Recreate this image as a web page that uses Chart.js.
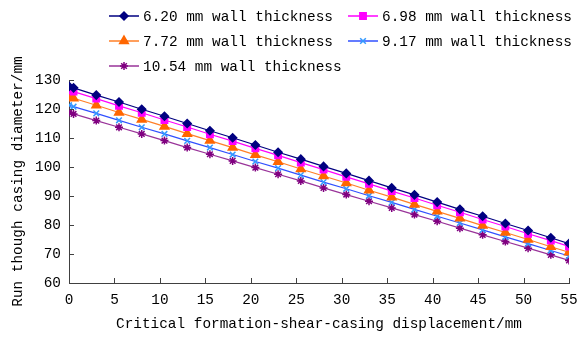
<!DOCTYPE html>
<html lang="en">
<head>
    <meta charset="UTF-8">
    <title>Run through casing diameter</title>
    <script src="https://cdn.jsdelivr.net/npm/chart.js"></script>
    <style>
        html, body { margin: 0; padding: 0; background: #fff; }
        #wrap { width: 579px; height: 337px; }
    </style>
</head>
<body>
    <div id="wrap"><canvas id="diamChart" width="579" height="337"></canvas></div>

    <script>
        // displacement (mm)
        const displacement = [0, 0.5, 3, 5.5, 8, 10.5, 13, 15.5, 18, 20.5, 23, 25.5, 28, 30.5, 33, 35.5, 38, 40.5, 43, 45.5, 48, 50.5, 53, 55];

        const wall620  = [127.8, 127.3, 124.8, 122.4, 119.9, 117.5, 115.0, 112.5, 110.1, 107.6, 105.1, 102.7, 100.2, 97.8, 95.3, 92.8, 90.4, 87.9, 85.4, 83.0, 80.5, 78.1, 75.6, 73.6];
        const wall698  = [126.5, 126.0, 123.6, 121.1, 118.7, 116.2, 113.8, 111.3, 108.9, 106.4, 104.0, 101.5, 99.1, 96.6, 94.2, 91.7, 89.3, 86.8, 84.4, 81.9, 79.5, 77.0, 74.6, 72.6];
        const wall772  = [124.2, 123.7, 121.3, 118.8, 116.4, 114.0, 111.5, 109.1, 106.7, 104.2, 101.8, 99.3, 96.9, 94.5, 92.0, 89.6, 87.1, 84.7, 82.3, 79.8, 77.4, 75.0, 72.5, 70.6];
        const wall917  = [121.3, 120.8, 118.5, 116.1, 113.7, 111.4, 109.0, 106.7, 104.3, 101.9, 99.6, 97.2, 94.8, 92.5, 90.1, 87.8, 85.4, 83.0, 80.7, 78.3, 75.9, 73.6, 71.2, 69.3];
        const wall1054 = [118.8, 118.3, 116.0, 113.7, 111.4, 109.1, 106.7, 104.4, 102.1, 99.8, 97.5, 95.2, 92.8, 90.5, 88.2, 85.9, 83.6, 81.3, 78.9, 76.6, 74.3, 72.0, 69.7, 67.8];

        const seriesNames = ['6.20 mm wall thickness', '6.98 mm wall thickness', '7.72 mm wall thickness', '9.17 mm wall thickness', '10.54 mm wall thickness'];
        const xTitle = 'Critical formation-shear-casing displacement/mm';
        const yTitle = 'Run though casing diameter/mm';

        const FONT = '"Liberation Mono", "DejaVu Sans Mono", monospace';

        function pts(ys) {
            return displacement.map((x, i) => ({ x: x, y: ys[i] }));
        }

        const styles = [
            { line: '#000080', fill: '#000080', shape: 'rectRot', r: 4 },
            { line: '#ff00ff', fill: '#ff00ff', shape: 'rect', r: 4.5 },
            { line: '#ff7f27', fill: '#ff6600', shape: 'triangle', r: 5 },
            { line: '#3050ff', fill: '#3399ff', shape: 'crossRot', r: 4 },
            { line: '#993399', fill: '#800080', shape: 'star', r: 4 }
        ];

        const allData = [wall620, wall698, wall772, wall917, wall1054];

        const datasets = allData.map((d, i) => ({
            label: seriesNames[i],
            data: pts(d),
            borderColor: styles[i].line,
            borderWidth: 1.2,
            pointStyle: styles[i].shape,
            pointRadius: styles[i].r,
            pointBackgroundColor: styles[i].fill,
            pointBorderColor: styles[i].fill,
            pointBorderWidth: 1.5,
            fill: false,
            tension: 0
        }));

        // legend drawn by hand, two columns like the original
        const legendPlugin = {
            id: 'twoColLegend',
            afterDraw(chart) {
                const ctx = chart.ctx;
                const cols = [109, 348];
                const rows = [16, 41, 66];
                ctx.save();
                ctx.font = '14.4px ' + FONT;
                ctx.textBaseline = 'middle';
                chart.data.datasets.forEach((ds, i) => {
                    const x0 = cols[i % 2];
                    const y0 = rows[Math.floor(i / 2)];
                    ctx.strokeStyle = ds.borderColor;
                    ctx.lineWidth = 1.5;
                    ctx.beginPath();
                    ctx.moveTo(x0, y0);
                    ctx.lineTo(x0 + 30, y0);
                    ctx.stroke();
                    ctx.fillStyle = ds.pointBackgroundColor;
                    ctx.strokeStyle = ds.pointBorderColor;
                    ctx.lineWidth = ds.pointBorderWidth;
                    Chart.helpers.drawPoint(ctx, {
                        pointStyle: ds.pointStyle,
                        radius: ds.pointRadius,
                        borderWidth: ds.pointBorderWidth,
                        rotation: 0
                    }, x0 + 15, y0);
                    ctx.fillStyle = '#000';
                    ctx.fillText(ds.label, x0 + 34, y0 + 1);
                });
                ctx.restore();
            }
        };

        // inward tick marks on both axes
        const innerTicks = {
            id: 'innerTicks',
            afterDraw(chart) {
                const ctx = chart.ctx;
                const xs = chart.scales.x, ys = chart.scales.y;
                ctx.save();
                ctx.strokeStyle = '#404040';
                ctx.lineWidth = 1;
                xs.ticks.forEach(t => {
                    const px = Math.round(xs.getPixelForValue(t.value)) + 0.5;
                    ctx.beginPath();
                    ctx.moveTo(px, ys.bottom);
                    ctx.lineTo(px, ys.bottom - 5);
                    ctx.stroke();
                });
                ys.ticks.forEach(t => {
                    const py = Math.round(ys.getPixelForValue(t.value)) + 0.5;
                    ctx.beginPath();
                    ctx.moveTo(xs.left, py);
                    ctx.lineTo(xs.left + 5, py);
                    ctx.stroke();
                });
                ctx.restore();
            }
        };

        new Chart(document.getElementById('diamChart'), {
            type: 'line',
            data: { datasets: datasets },
            options: {
                responsive: false,
                animation: false,
                layout: { padding: { top: 80, right: 10, left: 10, bottom: 0 } },
                plugins: {
                    legend: { display: false },
                    tooltip: { enabled: false }
                },
                scales: {
                    x: {
                        type: 'linear',
                        min: 0,
                        max: 55,
                        ticks: { stepSize: 5, color: '#000', font: { family: FONT, size: 14.4 }, padding: 9 },
                        grid: { display: false, drawTicks: false },
                        border: { color: '#404040', width: 1 },
                        title: { display: true, text: xTitle, color: '#000', font: { family: FONT, size: 14.4 }, padding: { top: 0, bottom: 4 } },
                        afterFit(scale) {
                            scale.height = 54;
                            scale.paddingRight = 0;
                            scale.paddingLeft = 0;
                        }
                    },
                    y: {
                        min: 60,
                        max: 130,
                        ticks: { stepSize: 10, color: '#000', font: { family: FONT, size: 14.4 }, padding: 8 },
                        grid: { display: false, drawTicks: false },
                        border: { color: '#404040', width: 1 },
                        title: { display: true, text: yTitle, color: '#000', font: { family: FONT, size: 14.4 }, padding: { top: 0, bottom: 2 } },
                        afterFit(scale) {
                            scale.width = 59;
                            scale.paddingTop = 0;
                            scale.paddingBottom = 0;
                        }
                    }
                }
            },
            plugins: [legendPlugin, innerTicks]
        });
    </script>
</body>
</html>
